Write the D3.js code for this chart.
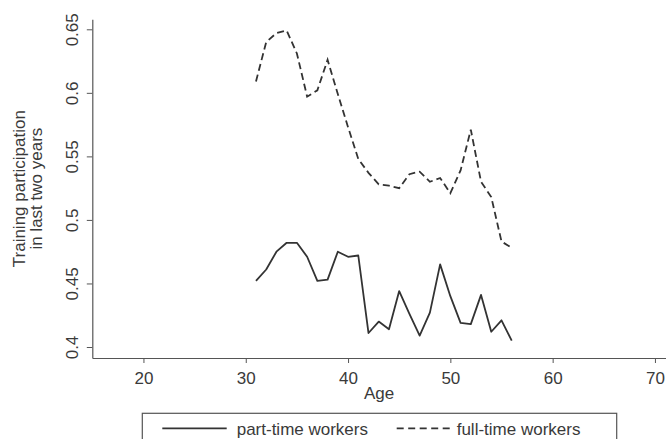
<!DOCTYPE html>
<html>
<head>
<meta charset="utf-8">
<script src="https://cdn.jsdelivr.net/npm/d3@7"></script>
<style>
  html, body { margin: 0; padding: 0; background: #fff; }
  svg { display: block; }
  text { font-family: "Liberation Sans", Arial, sans-serif; fill: #3a3a3a; }
</style>
</head>
<body>
<svg id="chart" width="666" height="439"></svg>
<script>
// ---- data ----
const ages = [31,32,33,34,35,36,37,38,39,40,41,42,43,44,45,46,47,48,49,50,51,52,53,54,55,56];
const partTime = [0.452,0.461,0.475,0.482,0.482,0.471,0.452,0.453,0.475,0.471,0.472,0.411,0.420,0.414,0.444,0.426,0.409,0.427,0.465,0.440,0.419,0.418,0.441,0.412,0.421,0.405];
const fullTime = [0.609,0.640,0.647,0.649,0.631,0.597,0.602,0.626,0.599,0.573,0.548,0.537,0.528,0.527,0.525,0.536,0.538,0.530,0.533,0.521,0.539,0.571,0.530,0.518,0.483,0.478];
const xTicks = [20,30,40,50,60,70];
const yTicks = [0.4,0.45,0.5,0.55,0.6,0.65];
const yTickLabels = ["0.4","0.45","0.5","0.55","0.6","0.65"];
const seriesNames = ["part-time workers","full-time workers"];
const xTitle = "Age";
const yTitle = ["Training participation","in last two years"];

// ---- layout ----
const svg = d3.select("#chart");
const mLeft = 92.3, mRight = 666, mTop = 19.3, mBottom = 358;
const pxPerUnit = 1270.8, pxPerYear = 10.23;
const x = d3.scaleLinear()
  .domain([15, 15 + (mRight - mLeft) / pxPerYear])
  .range([mLeft, mRight]);
const y = d3.scaleLinear()
  .domain([0.4 - (mBottom - 347) / pxPerUnit, 0.65 + (29.3 - mTop) / pxPerUnit])
  .range([mBottom, mTop]);

const axisColor = "#555";
const font = "Liberation Sans, Arial, sans-serif";

// x axis
const gx = svg.append("g").attr("transform", `translate(0,${mBottom})`)
  .call(d3.axisBottom(x).tickValues(xTicks).tickSize(5).tickSizeOuter(0).tickPadding(9).tickFormat(d => String(d)));
gx.select(".domain").attr("stroke", axisColor).attr("stroke-width", 1.2);
gx.selectAll(".tick line").attr("stroke", axisColor);
gx.selectAll(".tick text").attr("font-size", 17).attr("font-family", font).attr("fill", "#3a3a3a");

// y axis
const gy = svg.append("g").attr("transform", `translate(${mLeft},0)`)
  .call(d3.axisLeft(y).tickValues(yTicks).tickSize(5.5).tickSizeOuter(0).tickFormat((d, i) => yTickLabels[i]));
gy.select(".domain").attr("stroke", axisColor).attr("stroke-width", 1.2);
gy.selectAll(".tick line").attr("stroke", axisColor);
gy.selectAll(".tick text")
  .attr("x", 0).attr("y", 0).attr("dy", null)
  .attr("text-anchor", "middle")
  .attr("transform", "translate(-14,0) rotate(-90)")
  .attr("font-size", 17).attr("font-family", font).attr("fill", "#3a3a3a");

// axis titles
svg.append("text").attr("x", (mLeft + mRight) / 2).attr("y", 398.5)
  .attr("text-anchor", "middle").attr("font-size", 17).text(xTitle);
const yMid = (mTop + mBottom) / 2;
yTitle.forEach((t, i) => {
  svg.append("text")
    .attr("transform", `translate(${25 + i * 17},${yMid}) rotate(-90)`)
    .attr("text-anchor", "middle").attr("font-size", 17).text(t);
});

// lines
const lineColor = "#333";
const line = vals => d3.line().x((d, i) => x(ages[i])).y(d => y(d))(vals);
svg.append("path").attr("d", line(partTime)).attr("fill", "none")
  .attr("stroke", lineColor).attr("stroke-width", 1.8).attr("stroke-linejoin", "round");
svg.append("path").attr("d", line(fullTime)).attr("fill", "none")
  .attr("stroke", lineColor).attr("stroke-width", 1.8).attr("stroke-dasharray", "7,4");

// legend
const lg = svg.append("g");
lg.append("rect").attr("x", 142.3).attr("y", 413.3).attr("width", 474.4).attr("height", 40)
  .attr("fill", "#fff").attr("stroke", axisColor).attr("stroke-width", 1.2);
const legendItems = [
  { x1: 162.3, x2: 226.7, tx: 236.7, dash: null },
  { x1: 396.7, x2: 451.7, tx: 456.7, dash: "7,4.5" }
];
legendItems.forEach((d, i) => {
  lg.append("line").attr("x1", d.x1).attr("x2", d.x2).attr("y1", 428.3).attr("y2", 428.3)
    .attr("stroke", lineColor).attr("stroke-width", 1.8).attr("stroke-dasharray", d.dash);
  lg.append("text").attr("x", d.tx).attr("y", 434.5).attr("font-size", 17).text(seriesNames[i]);
});
</script>
</body>
</html>
